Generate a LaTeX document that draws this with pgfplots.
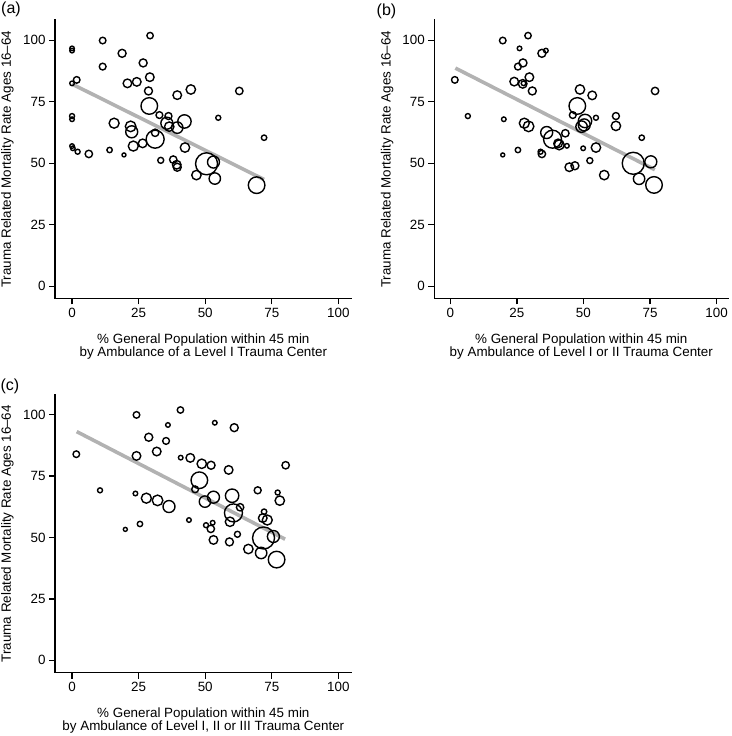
\documentclass[border=0pt]{standalone}
\usepackage{fontspec}
\setmainfont{Liberation Sans}
\usepackage{pgfplots}
\pgfplotsset{compat=1.18}
\definecolor{lgray}{RGB}{178,178,178}
\pgfplotsset{
  panel/.style={
    scale only axis, anchor=south west, clip=false,
    axis line style={draw=none},
    xtick pos=lower, ytick pos=left,
    xtick={0,25,50,75,100}, ytick={0,25,50,75,100},
    tick align=outside, major tick length=6pt,
    major tick style={draw=black, line width=1.3pt},
    tick label style={font=\fontsize{13.4}{16}\selectfont},
    /pgf/number format/assume math mode=true,
    label style={font=\fontsize{13.4}{12.8}\selectfont},
    xlabel style={at={(axis description cs:0.5,0)}, anchor=north, yshift=-35.5pt, align=center, inner sep=0pt},
    ylabel style={at={(axis description cs:-0.160,0.5)}, anchor=center, inner sep=0pt},
    ylabel={Trauma Related Mortality Rate Ages 16--64},
    after end axis/.code={\draw[black, line width=1.4pt, line cap=rect] (rel axis cs:0,1) -- (rel axis cs:0,0) -- (rel axis cs:1,0);},
  },
  bubbles/.style={scatter, only marks, mark=o,
    scatter/use mapped color={draw=black},
    mark options={line width=1.4pt},
    visualization depends on={\thisrow{r}\as\rr},
    scatter/@pre marker code/.append style={/tikz/mark size=\rr}},
  fitline/.style={color=lgray, line width=3.6pt, no marks},
}
\pgfplotstableread{
x y r
0 96.7 2.3
0 95.8 2.3
11.5 99.9 3.3
29.3 101.9 3.2
18.8 94.7 4.0
11.5 89.3 3.4
26.7 90.8 4.0
29.2 85.0 4.3
1.75 83.9 3.3
0 82.5 2.3
20.8 82.5 4.3
24.3 83.1 4.3
28.7 79.4 4.0
44.6 80.0 4.7
62.8 79.4 3.7
39.5 77.7 4.3
29.0 73.3 8.3
32.8 69.6 3.4
36.2 69.2 3.5
0 69.2 2.5
0 67.9 2.3
54.9 68.5 2.5
35.6 66.3 6.0
36.5 64.9 4.7
39.5 64.5 5.7
42.2 67.0 6.7
15.8 66.3 5.0
22.0 65.0 5.3
22.4 62.8 6.0
31.2 62.4 3.7
31.2 59.8 9.0
23.0 57.0 5.0
26.5 58.1 4.3
0 57.0 2.3
0.3 56.1 2.3
2.1 54.7 2.5
6.3 53.8 3.7
14.1 55.4 2.7
19.5 53.4 2.0
42.4 56.4 4.7
72.1 60.4 2.7
33.3 51.2 3.0
38.0 51.5 3.7
39.3 49.4 4.3
39.5 48.4 4.0
50.5 49.8 11.0
53.1 50.5 6.0
46.7 45.2 4.7
53.6 43.8 5.7
69.3 41.1 8.3
}\dataA
\pgfplotstableread{
x y r
26.0 96.7 2.3
35.9 95.8 2.3
19.7 99.9 3.3
29.2 101.9 3.2
34.4 94.7 4.0
25.4 89.3 3.4
27.3 90.8 4.0
29.7 85.0 4.3
1.7 83.9 3.3
27.5 82.5 2.3
27.2 82.3 4.3
24.0 83.2 4.3
30.8 79.4 4.0
48.7 80.0 4.7
76.9 79.4 3.7
53.3 77.6 4.3
47.7 73.3 8.3
46.0 69.6 3.4
62.2 69.2 3.5
6.6 69.2 2.5
20.1 67.9 2.3
54.7 68.5 2.5
50.3 65.6 6.0
62.2 65.2 4.7
49.3 64.9 5.7
50.6 67.2 6.7
27.8 66.3 5.0
29.4 65.0 5.3
36.2 62.5 6.0
43.2 62.2 3.7
38.4 59.8 9.0
40.9 57.5 5.0
40.5 58.1 4.3
43.8 57.1 2.3
49.9 56.1 2.3
33.9 54.7 2.5
34.4 53.8 3.7
25.4 55.4 2.7
19.7 53.4 2.0
54.7 56.4 4.7
71.9 60.4 2.7
52.4 51.1 3.0
44.7 48.4 4.3
46.8 49.0 4.0
68.7 50.0 11.0
75.3 50.6 6.0
57.8 45.2 4.7
70.9 43.7 5.7
76.5 41.2 8.3
}\dataB
\pgfplotstableread{
x y r
53.6 96.7 2.3
36.0 95.8 2.3
24.2 99.9 3.3
40.7 101.9 3.2
60.9 94.7 4.0
35.3 89.3 3.4
28.8 90.8 4.0
31.8 85.0 4.3
1.6 83.9 3.3
40.8 82.5 2.3
44.4 82.4 4.3
24.2 83.2 4.3
52.2 79.4 4.0
48.7 80.0 4.7
80.2 79.4 3.7
58.8 77.5 4.3
47.8 73.3 8.3
46.2 69.6 3.4
69.7 69.2 3.5
10.5 69.2 2.5
23.8 67.9 2.3
77.2 68.3 2.5
53.1 66.4 6.0
78.0 65.0 4.7
49.9 64.6 5.7
60.1 67.0 6.7
27.9 66.0 5.0
32.1 65.1 5.3
36.4 62.6 6.0
63.1 62.3 3.7
60.6 60.0 9.0
73.3 57.1 5.0
71.6 57.9 4.3
43.9 57.1 2.3
52.8 56.0 2.3
50.3 55.0 2.5
52.1 53.5 3.7
25.5 55.5 2.7
20.0 53.3 2.0
59.3 56.4 4.7
72.1 60.5 2.7
62.1 51.3 3.0
53.1 49.0 4.3
59.1 48.2 4.0
71.9 49.8 11.0
75.6 50.4 6.0
66.2 45.3 4.7
71.0 43.7 5.7
76.8 41.0 8.3
}\dataC
\begin{document}
\begin{tikzpicture}
\path (0,0) rectangle (731pt,736pt);
% panel (a)
\begin{axis}[panel, at={(55pt,437.5pt)}, width=296.7pt, height=278.5pt,
  xmin=-6.4, xmax=105, ymin=-4.96, ymax=108.25,
  xlabel={\% General Population within 45 min\\by Ambulance of a Level I Trauma Center}]
\addplot[bubbles] table[x=x,y=y] {\dataA};
\addplot[fitline] coordinates {(0,82.2) (72.1,43.4)};
\end{axis}
% panel (b)
\begin{axis}[panel, at={(434.3pt,437.5pt)}, width=294pt, height=278.5pt,
  xmin=-6.0, xmax=104.4, ymin=-4.96, ymax=108.25,
  xlabel={\% General Population within 45 min\\by Ambulance of Level I or II Trauma Center}]
\addplot[bubbles] table[x=x,y=y] {\dataB};
\addplot[fitline] coordinates {(1.9,88.7) (76.8,47.4)};
\end{axis}
% panel (c)
\begin{axis}[panel, at={(55pt,63.5pt)}, width=296.7pt, height=277.5pt,
  xmin=-6.4, xmax=105, ymin=-4.96, ymax=108.0,
  xlabel={\% General Population within 45 min\\by Ambulance of Level I, II or III Trauma Center}]
\addplot[bubbles] table[x=x,y=y] {\dataC};
\addplot[fitline] coordinates {(1.75,93.1) (80.0,49.3)};
\end{axis}
\node[font=\fontsize{16}{18}\selectfont, inner sep=0pt] at (11pt,727pt) {(a)};
\node[font=\fontsize{16}{18}\selectfont, inner sep=0pt] at (386.5pt,725pt) {(b)};
\node[font=\fontsize{16}{18}\selectfont, inner sep=0pt] at (10pt,350pt) {(c)};
\end{tikzpicture}
\end{document}
